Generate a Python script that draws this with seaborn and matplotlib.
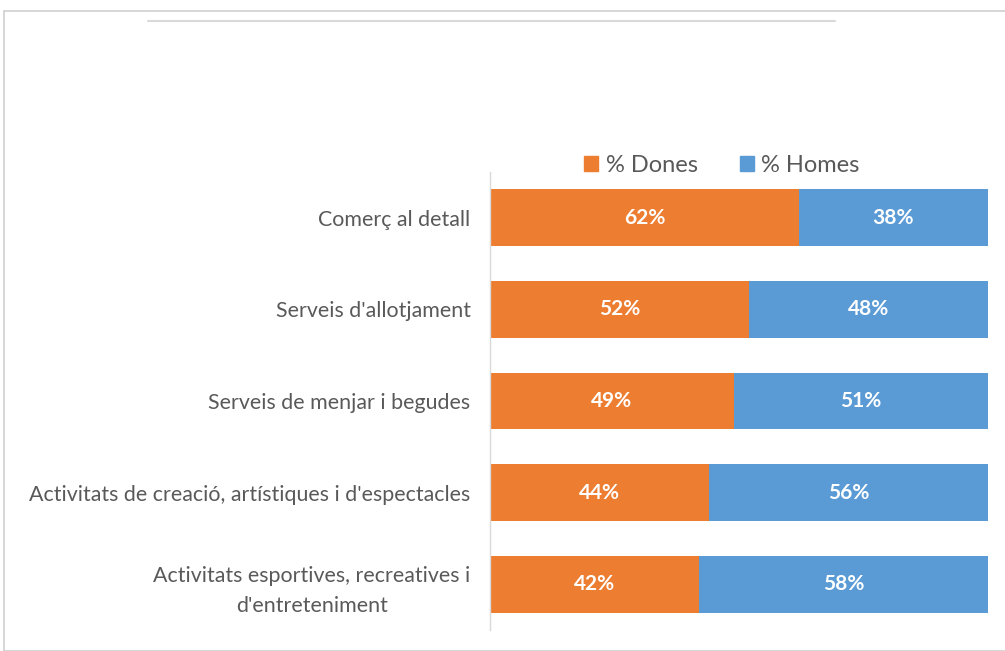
import matplotlib
matplotlib.use("Agg")
import matplotlib.pyplot as plt
import seaborn as sns
import pandas as pd
from matplotlib.patches import Rectangle
from matplotlib.lines import Line2D

sns.set_theme(style="white")
plt.rcParams['font.family'] = ['Lato', 'DejaVu Sans']

# Dades
sectors = [
    "Comerç al detall",
    "Serveis d'allotjament",
    "Serveis de menjar i begudes",
    "Activitats de creació, artístiques i d'espectacles",
    "Activitats esportives, recreatives i\nd'entreteniment",
]
dones = [62, 52, 49, 44, 42]
homes = [38, 48, 51, 56, 58]

ORANGE = '#ED7D31'
BLUE = '#5B9BD5'
GREY_TXT = '#595959'

df = pd.DataFrame({'sector': sectors, 'dones': dones, 'homes': homes})
df['total'] = df['dones'] + df['homes']

fig = plt.figure(figsize=(10.05, 6.51), dpi=100)
ax = fig.add_axes([490 / 1005, 1 - 630 / 651, 498 / 1005, 458 / 651])

sns.barplot(data=df, y='sector', x='total', color=BLUE, orient='h',
            width=0.62, ax=ax, saturation=1, linewidth=0)
sns.barplot(data=df, y='sector', x='dones', color=ORANGE, orient='h',
            width=0.62, ax=ax, saturation=1, linewidth=0)

for i, (d, h) in enumerate(zip(dones, homes)):
    ax.text(d / 2, i, f"{d}%", ha='center', va='center', color='white',
            fontsize=15, fontweight='bold')
    ax.text(d + h / 2, i, f"{h}%", ha='center', va='center', color='white',
            fontsize=15, fontweight='bold')

ax.set_xlim(0, 100)
ax.set_ylim(4.5, -0.5)
ax.set_xlabel("")
ax.set_ylabel("")
ax.set_xticks([])
for s in ['top', 'right', 'bottom']:
    ax.spines[s].set_visible(False)
ax.spines['left'].set_color('#D9D9D9')
ax.spines['left'].set_linewidth(1)
ax.tick_params(axis='y', length=0, pad=14)
for lbl in ax.get_yticklabels():
    lbl.set_fontsize(15.4)
    lbl.set_color(GREY_TXT)
    lbl.set_multialignment('center')
    lbl.set_linespacing(1.6)

# llegenda
handles = [Rectangle((0, 0), 1, 1, color=ORANGE), Rectangle((0, 0), 1, 1, color=BLUE)]
fig.legend(handles, ['% Dones', '% Homes'], loc='center',
           bbox_to_anchor=(722 / 1005, 1 - 165 / 651), ncol=2, frameon=False,
           fontsize=17, labelcolor=GREY_TXT, handlelength=0.6, handleheight=0.6,
           handletextpad=0.3, columnspacing=1.8)

# marc i línia superior
fig.patches.append(Rectangle((4 / 1005, 0), 1.0, 1 - 11 / 651, transform=fig.transFigure,
                             fill=False, edgecolor='#D0D0D0', linewidth=1.2))
fig.lines.append(Line2D([148 / 1005, 835 / 1005], [1 - 21 / 651, 1 - 21 / 651],
                        transform=fig.transFigure, color='#D9D9D9', linewidth=1.5))

fig.savefig("out.png", dpi=100, facecolor='white')
